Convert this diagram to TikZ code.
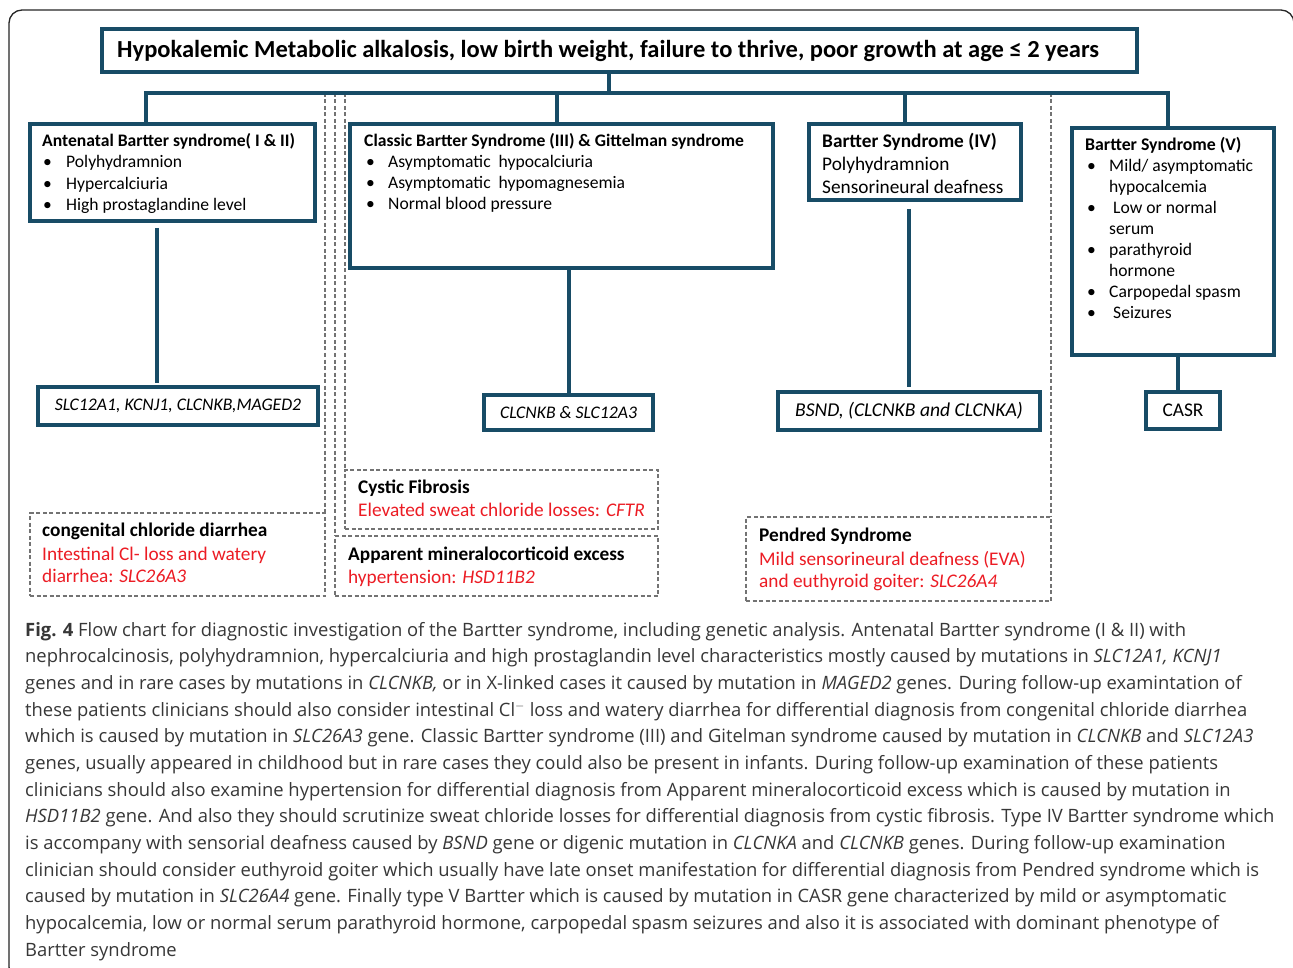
\documentclass[tikz,border=0pt]{standalone}
\usepackage{fontspec}
\setmainfont{Carlito}
\newfontfamily\capfont{Open Sans}
\definecolor{tealb}{RGB}{24,76,102}
\definecolor{dgray}{RGB}{115,115,115}
\definecolor{redt}{RGB}{236,28,36}
\definecolor{capgray}{RGB}{55,55,55}
\newcommand{\bul}[5]{\node[t15] (#1b) at (#2,#4) {•}; \node[t15] (#1) at (#3,#4) {#5};}
\begin{document}
\begin{tikzpicture}[x=1pt,y=-1pt,
  tbox/.style={draw=tealb, line width=3.2pt, inner sep=0pt, outer sep=0pt},
  dbox/.style={draw=dgray, line width=1.2pt, dash pattern=on 4pt off 2.5pt, inner sep=0pt, outer sep=0pt},
  conn/.style={draw=tealb, line width=3.8pt},
  dline/.style={draw=dgray, line width=1.2pt, dash pattern=on 4pt off 2.5pt},
  t15/.style={anchor=base west, inner sep=0pt, font=\fontsize{17.6}{20}\selectfont},
  h15/.style={anchor=base west, inner sep=0pt, font=\fontsize{17.6}{20}\selectfont\bfseries},
  t17/.style={anchor=base west, inner sep=0pt, font=\fontsize{19.3}{22}\selectfont},
  h17/.style={anchor=base west, inner sep=0pt, font=\fontsize{19.3}{22}\selectfont\bfseries},
  r17/.style={anchor=base west, inner sep=0pt, text=redt, font=\fontsize{19.3}{22}\selectfont},
  gene/.style={inner sep=0pt, font=\fontsize{17.7}{20}\selectfont\itshape},
  captxt/.style={anchor=base west, inner sep=0pt, text=capgray, font=\capfont\fontsize{18.4}{22}\selectfont},
]
\useasboundingbox (0,0) rectangle (1293,968);
\fill[white] (0,0) rectangle (1293,968);
% outer frame
\draw[line width=1.3pt, rounded corners=13pt, black!85] (9,10) rectangle (1294,980);

% main boxes
\node[tbox, minimum width=1035, minimum height=43] (title) at (619.5,50.5) {};
\node[anchor=base west, inner sep=0pt, font=\fontsize{24.5}{28}\selectfont\bfseries] (titlet) at (117,58)
  {Hypokalemic Metabolic alkalosis, low birth weight, failure to thrive, poor growth at age ≤ 2 years};

\node[tbox, minimum width=285, minimum height=97] (b1) at (172.5,172.5) {};
\node[tbox, minimum width=423, minimum height=144] (b2) at (561.5,196) {};
\node[tbox, minimum width=212, minimum height=76] (b3) at (915,162) {};
\node[tbox, minimum width=202, minimum height=227] (b5) at (1173,241.5) {};

\node[tbox, minimum width=280, minimum height=38] (g1) at (178,406) {};
\node[tbox, minimum width=169, minimum height=35] (g2) at (568.5,412.5) {};
\node[tbox, minimum width=262, minimum height=38] (g3) at (909,411) {};
\node[tbox, minimum width=74, minimum height=37] (g5) at (1183,410.5) {};

% dashed boxes
\node[dbox, minimum width=295, minimum height=83] (d1) at (177.5,554.5) {};
\node[dbox, minimum width=313, minimum height=59] (d2) at (501.5,499.5) {};
\node[dbox, minimum width=323, minimum height=60] (d3) at (496.5,566) {};
\node[dbox, minimum width=305, minimum height=84] (d4) at (898.5,559) {};

% bus coordinates
\coordinate (busL) at (146,93);
\coordinate (busR) at (1168,93);
\coordinate (tstub) at (609,93);
\coordinate (c2) at (557,93);
\coordinate (c3) at (905,93);
\coordinate (k1) at (325,93);
\coordinate (k2) at (335,93);
\coordinate (k3) at (345,93);
\coordinate (k4) at (1051,93);
\coordinate (v1) at (157,300);
\coordinate (v2) at (569,300);
\coordinate (v3) at (909,300);
\coordinate (v5) at (1178,300);

% dashed separators (behind)
\draw[dline] (k1) -- (d1.north east);
\draw[dline] (k2) -- (d3.north west);
\draw[dline] (k3) -- (d2.north west);
\draw[dline] (k4) -- (d4.north east);

% connectors
\draw[conn] (title.south -| tstub) -- (tstub);
\draw[conn, line join=miter] (b1.north -| busL) -- (busL) -- (busR) -- (b5.north -| busR);
\draw[conn] (c2) -- (b2.north -| c2);
\draw[conn] (c3) -- (b3.north -| c3);
\draw[conn] ([yshift=-7pt]b1.south -| v1) -- ([yshift=4pt]g1.north -| v1);
\draw[conn] (b2.south -| v2) -- (g2.north -| v2);
\draw[conn] ([yshift=-9pt]b3.south -| v3) -- ([yshift=5pt]g3.north -| v3);
\draw[conn] (b5.south -| v5) -- (g5.north -| v5);

% box 1 text
\node[h15] (b1h) at (42,147) {Antenatal Bartter syndrome( I \& II)};
\bul{b1a}{43}{66}{168}{Polyhydramnion}
\bul{b1c}{43}{66}{189.5}{Hypercalciuria}
\bul{b1d}{43}{66}{211}{High prostaglandine level}

% box 2 text
\node[h15] (b2h) at (364,147) {Classic Bartter Syndrome (III) \& Gittelman syndrome};
\bul{b2a}{366}{388}{168}{Asymptomatic\ \ hypocalciuria}
\bul{b2c}{366}{388}{189}{Asymptomatic\ \ hypomagnesemia}
\bul{b2d}{366}{388}{210}{Normal blood pressure}

% box 3 text
\node[h17] (b3h) at (822,148) {Bartter Syndrome (IV)};
\node[t17] (b3a) at (822,171) {Polyhydramnion};
\node[t17] (b3c) at (822,194) {Sensorineural deafness};

% box 5 text
\node[h15, font=\fontsize{17.8}{20}\selectfont\bfseries] (b5h) at (1085,151) {Bartter Syndrome (V)};
\bul{b5a}{1087}{1109}{172}{Mild/ asymptomatic}
\node[t15] (b5a2) at (1109,193) {hypocalcemia};
\bul{b5c}{1087}{1113}{214}{Low or normal}
\node[t15] (b5c2) at (1109,235) {serum};
\bul{b5d}{1087}{1109}{256}{parathyroid}
\node[t15] (b5d2) at (1109,277) {hormone};
\bul{b5e}{1087}{1109}{298}{Carpopedal spasm}
\bul{b5f}{1087}{1113}{319}{Seizures}

% gene texts
\node[gene] (g1t) at (g1.center) {SLC12A1, KCNJ1, CLCNKB,MAGED2};
\node[gene] (g2t) at (g2.center) {CLCNKB \& SLC12A3};
\node[gene, font=\fontsize{19.6}{22}\selectfont\itshape] (g3t) at (g3.center) {BSND, (CLCNKB and CLCNKA)};
\node[inner sep=0pt, font=\fontsize{19.4}{22}\selectfont] (g5t) at (g5.center) {CASR};

% dashed box texts
\node[h17] (d1h) at (42,536) {congenital chloride diarrhea};
\node[r17] (d1a) at (42,560) {Intestinal Cl- loss and watery};
\node[r17] (d1c) at (42,582) {diarrhea: \textit{SLC26A3}};
\node[h17] (d2h) at (358,493) {Cystic Fibrosis};
\node[r17] (d2a) at (358,516.5) {Elevated sweat chloride losses: \textit{CFTR}};
\node[h17] (d3h) at (348,560) {Apparent mineralocorticoid excess};
\node[r17] (d3a) at (348,583) {hypertension: \textit{HSD11B2}};
\node[h17] (d4h) at (759,541.5) {Pendred Syndrome};
\node[r17] (d4a) at (759,565) {Mild sensorineural deafness (EVA)};
\node[r17] (d4c) at (759,587.5) {and euthyroid goiter: \textit{SLC26A4}};

% caption
\node[captxt] (cap1) at (25,636) {\textbf{Fig. 4} Flow chart for diagnostic investigation of the Bartter syndrome, including genetic analysis. Antenatal Bartter syndrome (I \& II) with};
\node[captxt] (cap2) at (25,662.7) {nephrocalcinosis, polyhydramnion, hypercalciuria and high prostaglandin level characteristics mostly caused by mutations in \textit{SLC12A1, KCNJ1}};
\node[captxt] (cap3) at (25,689.3) {genes and in rare cases by mutations in \textit{CLCNKB,} or in X-linked cases it caused by mutation in \textit{MAGED2} genes. During follow-up examintation of};
\node[captxt] (cap4) at (25,716) {these patients clinicians should also consider intestinal Cl$^{-}$ loss and watery diarrhea for differential diagnosis from congenital chloride diarrhea};
\node[captxt] (cap5) at (25,742.7) {which is caused by mutation in \textit{SLC26A3} gene. Classic Bartter syndrome (III) and Gitelman syndrome caused by mutation in \textit{CLCNKB} and \textit{SLC12A3}};
\node[captxt] (cap6) at (25,769.3) {genes, usually appeared in childhood but in rare cases they could also be present in infants. During follow-up examination of these patients};
\node[captxt] (cap7) at (25,796) {clinicians should also examine hypertension for differential diagnosis from Apparent mineralocorticoid excess which is caused by mutation in};
\node[captxt] (cap8) at (25,822.7) {\textit{HSD11B2} gene. And also they should scrutinize sweat chloride losses for differential diagnosis from cystic fibrosis. Type IV Bartter syndrome which};
\node[captxt] (cap9) at (25,849.3) {is accompany with sensorial deafness caused by \textit{BSND} gene or digenic mutation in \textit{CLCNKA} and \textit{CLCNKB} genes. During follow-up examination};
\node[captxt] (cap10) at (25,876) {clinician should consider euthyroid goiter which usually have late onset manifestation for differential diagnosis from Pendred syndrome which is};
\node[captxt] (cap11) at (25,902.7) {caused by mutation in \textit{SLC26A4} gene. Finally type V Bartter which is caused by mutation in CASR gene characterized by mild or asymptomatic};
\node[captxt] (cap12) at (25,929.3) {hypocalcemia, low or normal serum parathyroid hormone, carpopedal spasm seizures and also it is associated with dominant phenotype of};
\node[captxt] (cap13) at (25,956) {Bartter syndrome};
\end{tikzpicture}
\end{document}
